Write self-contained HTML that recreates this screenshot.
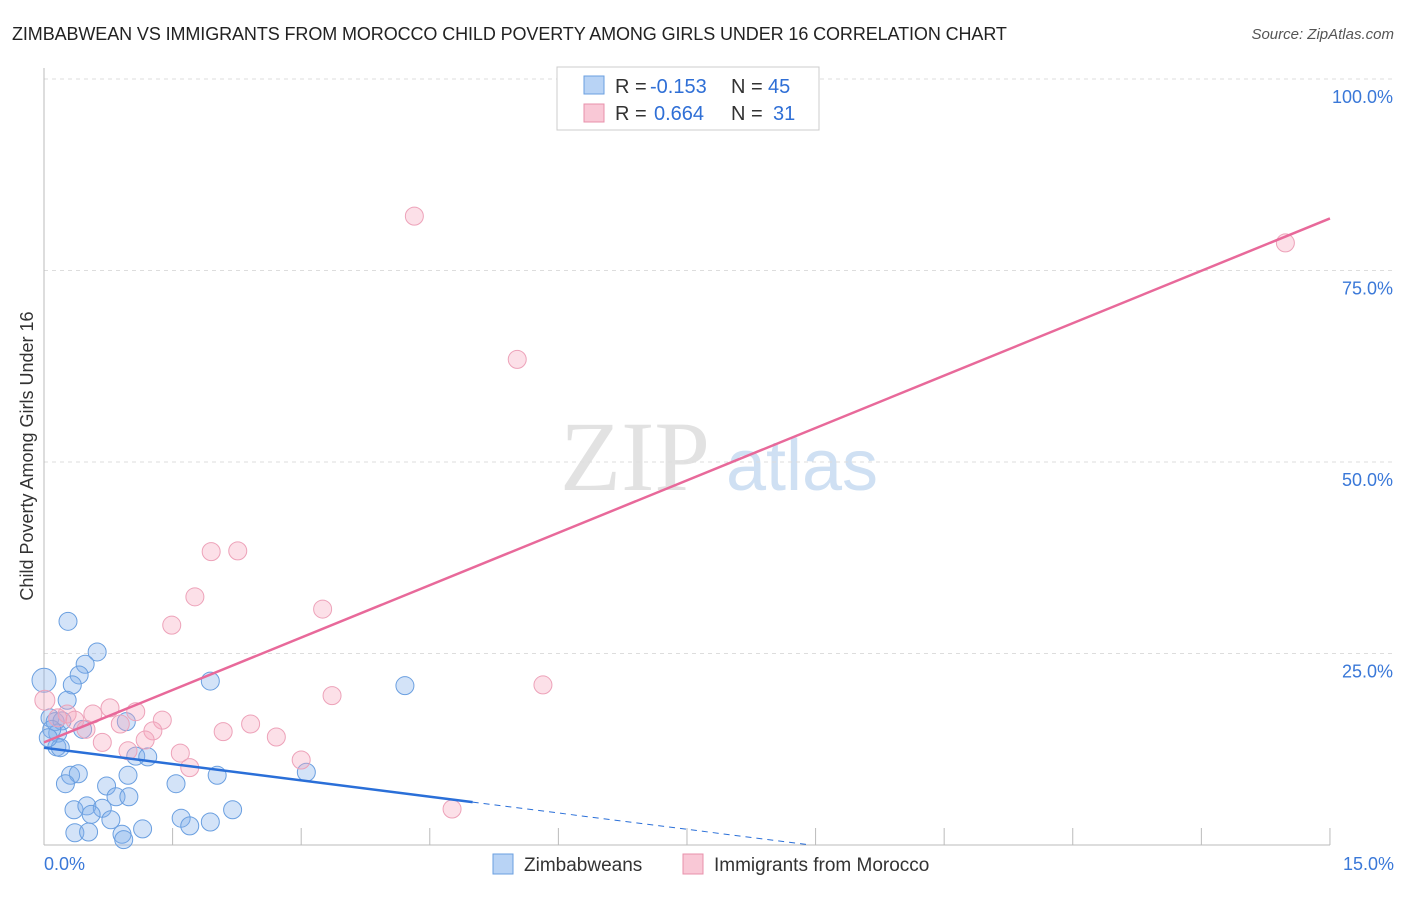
<!DOCTYPE html>
<html><head><meta charset="utf-8"><style>
body{margin:0;background:#fff;font-family:"Liberation Sans",sans-serif}
</style></head><body>
<svg id="chart" width="1406" height="892" xmlns="http://www.w3.org/2000/svg" font-family="Liberation Sans, sans-serif">
<text x="12" y="40" font-size="18" fill="#222" letter-spacing="-0.1">ZIMBABWEAN VS IMMIGRANTS FROM MOROCCO CHILD POVERTY AMONG GIRLS UNDER 16 CORRELATION CHART</text>
<text x="1394" y="39" font-size="15" fill="#555" font-style="italic" text-anchor="end">Source: ZipAtlas.com</text>
<g>
<text x="635" y="490" font-size="100" font-family="Liberation Serif, serif" fill="#e2e2e2" text-anchor="middle">ZIP</text>
<text x="802" y="490" font-size="72" fill="#cfe0f3" text-anchor="middle">atlas</text>
</g>
<g id="grid"></g>
<g id="axes"></g>
<g id="marks"></g>
<text transform="translate(33,456) rotate(-90)" font-size="18" fill="#333" text-anchor="middle">Child Poverty Among Girls Under 16</text>
<g font-size="20">
<rect x="557" y="67" width="262" height="63" fill="#fff" stroke="#ccc"/>
<rect x="584" y="76" width="20" height="18" fill="#b8d3f5" stroke="#6a9fe0"/>
<text x="615" y="93" fill="#333">R =</text>
<text x="650" y="93" fill="#2f6fd6">-0.153</text>
<text x="731" y="93" fill="#333">N =</text>
<text x="768" y="93" fill="#2f6fd6">45</text>
<rect x="584" y="104" width="20" height="18" fill="#f9c8d6" stroke="#e890ab"/>
<text x="615" y="120" fill="#333">R =</text>
<text x="654" y="120" fill="#2f6fd6">0.664</text>
<text x="731" y="120" fill="#333">N =</text>
<text x="773" y="120" fill="#2f6fd6">31</text>
</g>
<g>
<rect x="493" y="854" width="20" height="20" fill="#b8d3f5" stroke="#6a9fe0"/>
<text x="524" y="871" font-size="19" fill="#333">Zimbabweans</text>
</g>
<g>
<rect x="683" y="854" width="20" height="20" fill="#f9c8d6" stroke="#e890ab"/>
<text x="714" y="871" font-size="19" fill="#333">Immigrants from Morocco</text>
</g>
</svg>
<script>
const yTicks=[25,50,75,100];
const yTickLabels=["25.0%","50.0%","75.0%","100.0%"];
const xTicks=[0,1.5,3,4.5,6,7.5,9,10.5,12,13.5,15];
const zimX=[0,0.28,0.62,0.48,0.41,0.33,0.27,0.07,0.13,0.21,0.16,0.09,0.15,0.19,0.45,0.96,1.07,1.21,1.94,4.21,3.06,0.31,0.40,0.98,0.25,0.73,1.54,2.02,0.84,0.99,0.35,0.50,0.68,0.55,0.78,1.60,2.20,1.94,0.36,0.52,0.91,1.15,1.70,0.93,0.05];
const zimY=[21.5,29.2,25.2,23.6,22.2,20.9,18.9,16.6,16.1,16.2,14.6,15.1,12.8,12.7,15.1,16.1,11.6,11.5,21.4,20.8,9.5,9.1,9.3,9.1,8.0,7.7,8.0,9.1,6.3,6.3,4.6,5.1,4.8,4.0,3.3,3.5,4.6,3.0,1.6,1.7,1.4,2.1,2.5,0.7,14.0];
const morX=[4.32,14.48,5.52,1.95,2.26,1.76,1.49,3.25,5.82,3.36,0.77,1.07,0.57,0.27,0.01,0.36,0.89,1.38,2.41,1.27,0.49,2.09,2.71,1.18,0.68,0.98,1.59,3.0,1.70,4.76,0.16];
const morY=[82.1,78.6,63.4,38.3,38.4,32.4,28.7,30.8,20.9,19.5,17.9,17.4,17.1,17.1,18.9,16.3,15.8,16.3,15.8,14.9,15.1,14.8,14.1,13.7,13.4,12.3,12.0,11.1,10.1,4.7,16.6];
const zimTrend=[12.7,-1.42];
const morTrend=[13.4,4.56];
const NS="http://www.w3.org/2000/svg";
const X=v=>44+v*85.73, Y=v=>845-v*7.66;
function mk(p,t,a){const e=document.createElementNS(NS,t);for(const k in a)e.setAttribute(k,a[k]);p.appendChild(e);return e;}
const grid=document.getElementById('grid'),axes=document.getElementById('axes'),marks=document.getElementById('marks');
yTicks.forEach((t,i)=>{
 const l=mk(grid,'line',{x1:44,x2:1394,y1:Y(t),y2:Y(t),stroke:'#ddd','stroke-dasharray':'4,4'});
 
 
 const tx=mk(axes,'text',{x:1393,y:Y(t)+24,'font-size':18,fill:'#3a78d8','text-anchor':'end'});tx.textContent=yTickLabels[i];
 
 
});
const ax=mk(axes,'line',{x1:44,x2:44,y1:68,y2:845,stroke:'#bbb'});


const bx=mk(axes,'line',{x1:44,x2:1330,y1:845,y2:845,stroke:'#bbb'});


xTicks.forEach(t=>{const l=mk(axes,'line',{x1:X(t),x2:X(t),y1:828,y2:845,stroke:'#bbb'});
 
 });
const x0=mk(axes,'text',{x:44,y:870,'font-size':18,fill:'#3a78d8'});x0.textContent='0.0%';


const x1=mk(axes,'text',{x:1394,y:870,'font-size':18,fill:'#3a78d8','text-anchor':'end'});x1.textContent='15.0%';


zimX.forEach((x,i)=>{const c=mk(marks,'circle',{cx:X(x),cy:Y(zimY[i]),r:i==0?12:9,fill:'rgba(130,175,235,0.35)',stroke:'#6a9fe0','stroke-width':1});
 
 });
morX.forEach((x,i)=>{const c=mk(marks,'circle',{cx:X(x),cy:Y(morY[i]),r:i==14?10:9,fill:'rgba(245,165,190,0.35)',stroke:'#eda2b9','stroke-width':1});
 
 });
const zEnd=5, zZero=-zimTrend[0]/zimTrend[1];
const zl=mk(marks,'line',{x1:X(0),y1:Y(zimTrend[0]),x2:X(zEnd),y2:Y(zimTrend[0]+zimTrend[1]*zEnd),stroke:'#2a6fd8','stroke-width':2.5});


const zd=mk(marks,'line',{x1:X(zEnd),y1:Y(zimTrend[0]+zimTrend[1]*zEnd),x2:X(zZero),y2:Y(0),stroke:'#2a6fd8','stroke-width':1,'stroke-dasharray':'6,5'});


const ml=mk(marks,'line',{x1:X(0),y1:Y(morTrend[0]),x2:X(15),y2:Y(morTrend[0]+morTrend[1]*15),stroke:'#e8699a','stroke-width':2.5});


</script>
</body></html>
